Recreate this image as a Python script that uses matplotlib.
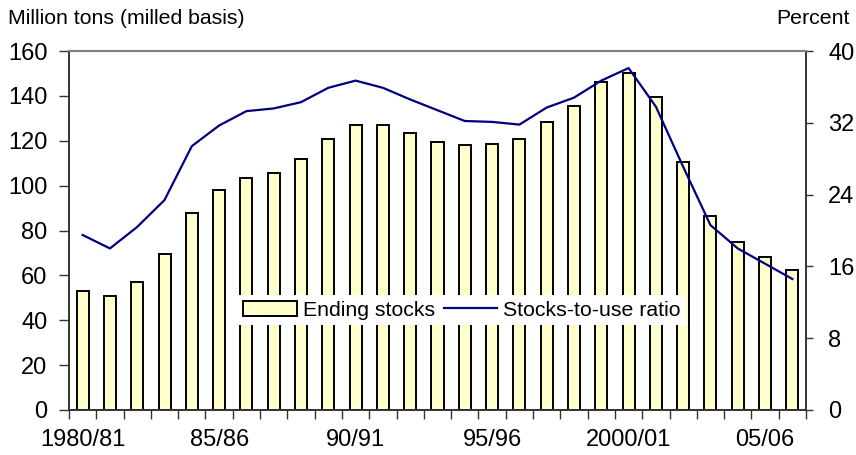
import matplotlib
matplotlib.use("Agg")
import matplotlib.pyplot as plt
from matplotlib.ticker import FixedLocator

plt.rcParams['font.family'] = ['Liberation Sans', 'DejaVu Sans']

years = list(range(1980, 2007))
stocks = [52.9, 50.6, 57.0, 69.5, 87.9, 97.9, 103.5, 105.6, 111.9, 120.8,
          126.8, 126.8, 123.4, 119.3, 118.1, 118.7, 120.8, 128.2, 135.3, 146.4,
          150.4, 139.5, 110.5, 86.3, 75.0, 68.4, 62.2]
ratio = [19.5, 18.0, 20.4, 23.4, 29.4, 31.7, 33.3, 33.6, 34.3, 35.9,
         36.7, 35.9, 34.6, 33.4, 32.2, 32.1, 31.8, 33.7, 34.8, 36.7,
         38.1, 33.8, 27.1, 20.6, 18.0, 16.3, 14.6]
tick_years = [1980, 1985, 1990, 1995, 2000, 2005]
tick_labels = ['1980/81', '85/86', '90/91', '95/96', '2000/01', '05/06']

x = list(range(len(years)))

fig = plt.figure(figsize=(8.56, 4.55), dpi=100)
ax = fig.add_axes([69 / 856, 1 - 410 / 455, 737 / 856, 359 / 455])
ax2 = ax.twinx()

bars = ax.bar(x, stocks, width=0.44, color='#FFFFCC', edgecolor='black',
              linewidth=1.4, label='Ending stocks', zorder=2)
line, = ax2.plot(x, ratio, color='#000080', linewidth=1.6,
                 label='Stocks-to-use ratio', zorder=3)

ax.set_xlim(-0.5, len(years) - 0.5)
ax.set_ylim(0, 160)
ax.set_yticks(range(0, 161, 20))
ax2.set_ylim(0, 40)
ax2.set_yticks(range(0, 41, 8))

# category boundaries as ticks, year labels at centres
ax.xaxis.set_minor_locator(FixedLocator([i - 0.5 for i in range(len(years) + 1)]))
ax.set_xticks([years.index(y) for y in tick_years])
ax.set_xticklabels(tick_labels)
ax.tick_params(axis='x', which='major', length=0, pad=14, labelsize=17)
ax.tick_params(axis='x', which='minor', length=6.5, width=1, color='#333333')
ax.tick_params(axis='y', length=7.5, width=1, labelsize=17, pad=8, color='#333333')
ax2.tick_params(axis='y', length=5, width=1, labelsize=17, pad=11, color='#333333')

for a in (ax, ax2):
    a.spines['top'].set_color('#808080')
    a.spines['top'].set_linewidth(1.5)
    for s in ('left', 'right', 'bottom'):
        a.spines[s].set_color('#333333')
        a.spines[s].set_linewidth(1.2)

ax.set_zorder(ax2.get_zorder() - 1)
ax.patch.set_visible(False)

leg = ax2.legend([bars, line], ['Ending stocks', 'Stocks-to-use ratio'],
                 ncol=2, loc='center', bbox_to_anchor=((462 - 69) / 737, (410 - 310) / 359),
                 frameon=True, fancybox=False, edgecolor='none', facecolor='white',
                 framealpha=1, fontsize=15.3, handlelength=2.5, handletextpad=0.3,
                 columnspacing=0.4, borderpad=0.25, borderaxespad=0)

fig.text(8 / 856, 1 - 19 / 455, 'Million tons (milled basis)', fontsize=15.3, va='center', ha='left')
fig.text(850 / 856, 1 - 19 / 455, 'Percent', fontsize=15.3, va='center', ha='right')

fig.savefig('out.png', dpi=100)
